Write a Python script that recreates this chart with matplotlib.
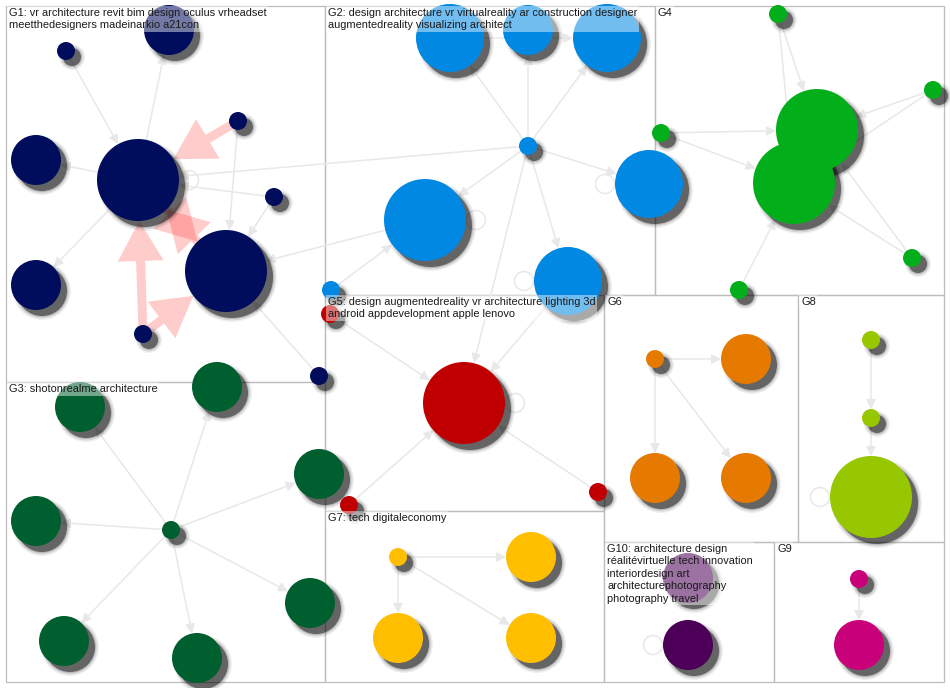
import numpy as np
import matplotlib.pyplot as plt
from matplotlib.patches import Circle, Rectangle

# groups
group_names = ["G1", "G2", "G3", "G4", "G5", "G6", "G7", "G8", "G9", "G10"]
group_labels = [
    "G1: vr architecture revit bim design oculus vrheadset\nmeetthedesigners madeinarkio a21con",
    "G2: design architecture vr virtualreality ar construction designer\naugmentedreality visualizing architect",
    "G3: shotonrealme architecture",
    "G4",
    "G5: design augmentedreality vr architecture lighting 3d\nandroid appdevelopment apple lenovo",
    "G6",
    "G7: tech digitaleconomy",
    "G8",
    "G9",
    "G10: architecture design\nréalitévirtuelle tech innovation\ninteriordesign art\narchitecturephotography\nphotography travel",
]
group_colors = ["#000D5C", "#0088E3", "#005F2F", "#02AE1A", "#C00000",
                "#E67A00", "#FFBF00", "#97C700", "#C8007A", "#4C0058"]

# vertices (layout, px)
node_names = ["a_top", "a_topmed", "a_left", "a_main", "a_sr", "a_s2", "a_big2", "a_ll", "a_sb", "a_sfr",
              "b_tl", "b_tm", "b_tr", "b_hub", "b_r", "b_l", "b_b", "b_sm",
              "c_hub", "c_tl", "c_tr", "c_l", "c_r", "c_rl", "c_bl", "c_b",
              "d_top", "d_r", "d_l", "d_bl", "d_bu", "d_br", "d_b",
              "e_tl", "e_big", "e_bl", "e_r",
              "f_s", "f_tr", "f_bl", "f_br",
              "g_s", "g_tr", "g_bl", "g_br",
              "h_t", "h_m", "h_b",
              "i_s", "i_b",
              "j_t", "j_b"]
node_group = ["G1"] * 10 + ["G2"] * 8 + ["G3"] * 8 + ["G4"] * 7 + ["G5"] * 4 + \
             ["G6"] * 4 + ["G7"] * 4 + ["G8"] * 3 + ["G9"] * 2 + ["G10"] * 2
node_x = [66, 169, 36, 138, 238, 274, 226, 36, 143, 319,
          450, 528, 607, 528, 649, 425, 568, 331,
          171, 80, 217, 36, 319, 310, 64, 197,
          778, 933, 661, 794, 817, 912, 739,
          330, 464, 349, 598,
          655, 746, 655, 746,
          398, 531, 398, 531,
          871, 871, 871,
          859, 859,
          688, 688]
node_y = [51, 30, 160, 180, 121, 197, 271, 285, 334, 376,
          38, 30, 38, 146, 184, 220, 281, 290,
          530, 407, 387, 521, 474, 603, 641, 658,
          14, 90, 133, 183, 130, 258, 290,
          314, 403, 505, 492,
          359, 359, 478, 478,
          557, 557, 638, 638,
          340, 418, 497,
          579, 645,
          578, 645]
node_r = [9, 25, 25, 41, 9, 9, 41, 25, 9, 9,
          34, 25, 34, 9, 34, 41, 34, 9,
          9, 25, 25, 25, 25, 25, 25, 25,
          9, 9, 9, 41, 41, 9, 9,
          9, 41, 9, 9,
          9, 25, 25, 25,
          9, 25, 25, 25,
          9, 9, 41,
          9, 25,
          25, 25]

edges = [
    ("a_top", "a_main"), ("a_main", "a_topmed"), ("a_main", "a_left"), ("a_main", "a_ll"),
    ("a_sr", "a_big2"), ("a_s2", "a_big2"), ("a_s2", "a_main"), ("a_sfr", "a_big2"),
    ("b_hub", "a_main"), ("b_l", "a_big2"),
    ("b_hub", "b_tl"), ("b_hub", "b_tm"), ("b_hub", "b_tr"), ("b_hub", "b_r"),
    ("b_hub", "b_l"), ("b_hub", "b_b"), ("b_sm", "b_l"), ("b_tl", "b_tr"),
    ("b_hub", "e_big"), ("b_b", "e_big"),
    ("c_hub", "c_tl"), ("c_hub", "c_tr"), ("c_hub", "c_l"), ("c_hub", "c_r"),
    ("c_hub", "c_rl"), ("c_hub", "c_bl"), ("c_hub", "c_b"),
    ("d_top", "d_bu"), ("d_top", "d_bl"), ("d_r", "d_bu"), ("d_r", "d_bl"),
    ("d_l", "d_bu"), ("d_l", "d_bl"), ("d_br", "d_bu"), ("d_br", "d_bl"), ("d_b", "d_bl"),
    ("e_tl", "e_big"), ("e_bl", "e_big"), ("e_r", "e_big"),
    ("f_s", "f_tr"), ("f_s", "f_bl"), ("f_s", "f_br"),
    ("g_s", "g_tr"), ("g_s", "g_bl"), ("g_s", "g_br"),
    ("h_t", "h_m"), ("h_m", "h_b"),
    ("i_s", "i_b"),
]
heavy_edges = [("a_sr", "a_main"), ("a_sb", "a_main"), ("a_sb", "a_big2"),
               ("a_main", "a_big2"), ("a_big2", "a_main")]
self_loops = ["a_main", "b_r", "b_l", "b_b", "e_big", "h_b", "j_t", "j_b"]
loop_side = [1, -1, 1, -1, 1, -1, -1, -1]

# panel boxes (x0, y0, x1, y1) in px
panel_box = {
    "G1": (6, 6, 325, 382), "G2": (325, 6, 655, 295), "G4": (655, 6, 944, 295),
    "G3": (6, 382, 325, 682), "G5": (325, 295, 604, 511), "G7": (325, 511, 604, 682),
    "G6": (604, 295, 798, 542), "G8": (798, 295, 944, 542),
    "G10": (604, 542, 774, 682), "G9": (774, 542, 944, 682),
}

idx = {n: i for i, n in enumerate(node_names)}
col = dict(zip(group_names, group_colors))
edge_color = "#E8E8E8"

fig = plt.figure(figsize=(9.5, 6.88), dpi=100)
ax = fig.add_axes([0, 0, 1, 1])
ax.set_xlim(0, 950)
ax.set_ylim(688, 0)
ax.axis("off")

for g in group_names:
    x0, y0, x1, y1 = panel_box[g]
    ax.add_patch(Rectangle((x0, y0), x1 - x0, y1 - y0, fill=False,
                           ec="#BDBDBD", lw=0.9, zorder=1))


def end_point(s, t):
    sx, sy = node_x[idx[s]], node_y[idx[s]]
    tx, ty = node_x[idx[t]], node_y[idx[t]]
    v = np.array([tx - sx, ty - sy], float)
    u = v / np.hypot(*v)
    r = node_r[idx[t]]
    return (sx, sy), (tx - u[0] * r, ty - u[1] * r)


for s, t in edges:
    p0, p1 = end_point(s, t)
    ax.annotate("", xy=p1, xytext=p0, zorder=2,
                arrowprops=dict(arrowstyle="-|>,head_length=0.55,head_width=0.28",
                                mutation_scale=10, color=edge_color, lw=1.1,
                                shrinkA=0, shrinkB=0))

for n, side in zip(self_loops, loop_side):
    i = idx[n]
    cx = node_x[i] + side * (node_r[i] + 10)
    ax.add_patch(Circle((cx, node_y[i]), 9.5, fill=False, ec=edge_color, lw=1.1, zorder=2))

for s, t in heavy_edges:
    p0, p1 = end_point(s, t)
    ax.arrow(p0[0], p0[1], p1[0] - p0[0], p1[1] - p0[1], width=9, head_width=46,
             head_length=40, length_includes_head=True, color="red", alpha=0.2,
             lw=0, zorder=3)

# shadows
for i in range(len(node_names)):
    x, y, r = node_x[i] + 6, node_y[i] + 6, node_r[i]
    for dr, a in [(4, 0.06), (2.5, 0.1), (1, 0.15), (0, 0.45)]:
        ax.add_patch(Circle((x, y), r + dr, color="black", alpha=a, lw=0, zorder=4))

for i in range(len(node_names)):
    ax.add_patch(Circle((node_x[i], node_y[i]), node_r[i],
                        color=col[node_group[i]], lw=0, zorder=5))

for g, lab in zip(group_names, group_labels):
    x0, y0, x1, y1 = panel_box[g]
    ax.text(x0 + 3, y0 + 2, lab, ha="left", va="top", fontsize=7.9,
            family="Liberation Sans", color="#1a1a1a", linespacing=1.3, zorder=6,
            bbox=dict(facecolor="white", alpha=0.45, edgecolor="none", pad=1.2))

fig.savefig("out.png", dpi=100)
